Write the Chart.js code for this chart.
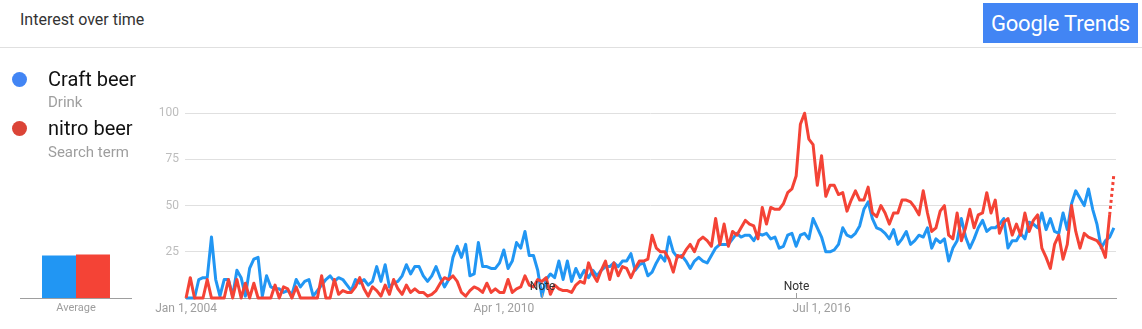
<!DOCTYPE html>
<html>
<head>
<meta charset="utf-8">
<script src="https://cdn.jsdelivr.net/npm/chart.js@4.4.1/dist/chart.umd.min.js"></script>
<style>
  html, body { margin:0; padding:0; background:#fff; }
  body { width:1142px; height:329px; position:relative; overflow:hidden; font-family: Roboto, "Noto Sans", Arial, sans-serif; }
  .title { position:absolute; left:20px; top:10px; font-size:16px; color:#333; line-height:20px; }
  .hr { position:absolute; left:0; top:47px; width:1142px; height:1px; background:#e0e0e0; }
  .logo { position:absolute; left:983px; top:3px; width:155px; height:40px; background:#4285f4; color:#fff;
          display:flex; align-items:center; justify-content:center; font-size:22px; letter-spacing:-0.2px; }
  .legend { position:absolute; left:0; top:0; z-index:5; }
  .dot { position:absolute; width:15px; height:15px; border-radius:50%; }
  .name { position:absolute; left:48px; font-size:20px; color:#111; line-height:24px; white-space:nowrap; }
  .sub { position:absolute; left:48px; font-size:15px; color:#9e9e9e; line-height:18px; white-space:nowrap; }
  canvas { position:absolute; }
</style>
</head>
<body>
<div class="title">Interest over time</div>
<div class="hr"></div>
<div class="logo">Google Trends</div>

<div class="legend">
  <div class="dot" style="left:12px; top:72px; background:#4285f4;"></div>
  <div class="name" style="top:67px;">Craft beer</div>
  <div class="sub" style="top:93px;">Drink</div>
  <div class="dot" style="left:12px; top:121px; background:#db4437;"></div>
  <div class="name" style="top:116px;">nitro beer</div>
  <div class="sub" style="top:143px;">Search term</div>
</div>

<canvas id="avg" width="112" height="229" style="left:20px; top:100px;"></canvas>
<canvas id="main" width="1002" height="229" style="left:140px; top:100px;"></canvas>

<script>
// Monthly interest, Jan 2004 .. Apr 2022 (index 0 = Jan 2004)
const craftBeer = [
  0,0,0,10,11,11,33,10,1,10,
  10,1,15,11,1,16,21,22,1,12,
  6,5,5,3,4,2,10,6,9,10,
  1,4,7,10,12,9,11,10,7,4,
  10,8,10,7,9,17,9,18,6,8,
  9,12,18,13,17,17,12,9,12,17,
  11,6,10,22,28,22,29,12,13,30,
  17,17,16,16,19,26,16,20,30,27,
  36,23,23,15,1,10,13,11,20,10,
  20,9,16,11,15,11,15,12,15,17,
  17,19,17,20,20,24,15,18,19,12,
  14,19,23,20,33,25,22,23,20,16,
  20,22,20,19,23,27,29,29,29,32,
  35,33,34,34,31,35,34,35,32,33,
  27,28,34,35,28,34,35,32,43,38,
  33,25,25,26,29,38,34,33,35,39,
  48,52,43,38,37,35,32,37,29,32,
  36,29,31,34,33,38,27,32,30,32,
  20,27,31,43,33,27,32,38,42,36,
  38,38,40,43,27,31,31,35,32,41,
  40,38,46,37,43,36,35,46,37,51,
  58,54,50,59,48,40,27,31,33,38
];
const nitroBeer = [
  0,11,0,0,0,10,0,0,0,0,
  10,0,10,0,8,0,8,0,0,0,
  0,7,0,6,5,0,6,0,0,0,
  0,0,12,0,0,10,2,4,3,3,
  6,11,5,1,6,4,1,7,2,10,
  5,2,7,3,5,3,3,1,2,4,
  8,11,10,12,9,3,1,4,6,5,
  3,8,3,5,3,3,10,3,5,6,
  12,7,6,10,9,11,2,7,5,4,
  4,3,7,9,8,19,13,9,15,20,
  10,19,12,17,16,11,16,20,20,21,
  34,27,25,25,21,14,23,22,26,29,
  25,31,33,31,28,43,29,40,28,36,
  34,38,42,40,39,32,49,40,49,48,
  48,51,57,59,66,94,100,86,83,61,
  77,55,61,61,56,57,47,53,58,53,
  53,60,46,44,50,46,40,46,46,53,
  53,52,49,45,58,46,36,38,47,50,
  34,32,46,31,38,48,38,45,46,57,
  46,53,35,41,43,34,40,34,46,36,
  42,45,27,22,16,29,34,21,29,50,
  36,27,35,33,32,31,28,22,45,67
];
const averages = [23, 23.5];
const averageLabel = ['Average'];
const tickIndices = [0, 75, 150];
const tickLabels = ['Jan 1, 2004', 'Apr 1, 2010', 'Jul 1, 2016'];
const yTicks = [0, 25, 50, 75, 100];
const noteIndices = [84, 144];
const noteText = 'Note';

const BLUE = '#2196f3', RED = '#f44336';
Chart.defaults.font.family = 'Roboto, "Noto Sans", Arial, sans-serif';
Chart.defaults.animation = false;

const toPts = arr => arr.map((v, i) => ({ x: i, y: v }));

const notesPlugin = {
  id: 'notes',
  afterDatasetsDraw(chart) {
    const { ctx, scales: { x, y } } = chart;
    const base = y.getPixelForValue(0);
    ctx.save();
    ctx.font = '12px Roboto, "Noto Sans", Arial, sans-serif';
    ctx.textAlign = 'center';
    ctx.textBaseline = 'middle';
    noteIndices.forEach(idx => {
      const px = Math.round(x.getPixelForValue(idx)) + 0.5;
      ctx.strokeStyle = '#9e9e9e';
      ctx.lineWidth = 1;
      ctx.beginPath();
      ctx.moveTo(px, base - 5);
      ctx.lineTo(px, base);
      ctx.stroke();
      ctx.fillStyle = '#333';
      ctx.fillText(noteText, px, base - 11);
    });
    ctx.restore();
  }
};

new Chart(document.getElementById('main'), {
  type: 'line',
  data: {
    datasets: [
      { label: 'Craft beer', data: toPts(craftBeer), borderColor: BLUE, borderWidth: 3,
        pointRadius: 0, tension: 0, order: 2, clip: 4, borderJoinStyle: 'round' },
      { label: 'nitro beer', data: toPts(nitroBeer), borderColor: RED, borderWidth: 3,
        pointRadius: 0, tension: 0, order: 1, clip: 4, borderJoinStyle: 'round',
        segment: { borderDash: c => c.p1DataIndex === nitroBeer.length - 1 ? [3, 3] : undefined } }
    ]
  },
  options: {
    responsive: false,
    devicePixelRatio: 1,
    layout: { padding: { top: 13, right: 26, left: 0, bottom: 0 } },
    plugins: { legend: { display: false }, tooltip: { enabled: false } },
    scales: {
      x: {
        type: 'linear', min: -0.25, max: craftBeer.length - 0.5,
        grid: { display: false, drawTicks: false },
        border: { display: true, color: '#9e9e9e', width: 1 },
        afterBuildTicks: s => { s.ticks = tickIndices.map(v => ({ value: v })); },
        afterFit: s => { s.height = 31; },
        ticks: {
          autoSkip: false, maxRotation: 0, padding: 4, color: '#9e9e9e',
          font: { size: 12 },
          callback: v => { const k = tickIndices.indexOf(v); return k >= 0 ? tickLabels[k] : ''; }
        }
      },
      y: {
        min: 0, max: 100,
        afterBuildTicks: s => { s.ticks = yTicks.map(v => ({ value: v })); },
        afterFit: s => { s.width = 45; },
        grid: { drawTicks: false, color: c => c.tick && c.tick.value === 0 ? '#9e9e9e' : '#e0e0e0' },
        border: { display: false },
        ticks: { padding: 6, color: '#bdbdbd', font: { size: 12 },
                 callback: v => v === 0 ? '' : String(v) }
      }
    }
  },
  plugins: [notesPlugin]
});

new Chart(document.getElementById('avg'), {
  type: 'bar',
  data: {
    labels: averageLabel,
    datasets: [
      { data: [averages[0]], backgroundColor: BLUE, barPercentage: 1, categoryPercentage: 0.607 },
      { data: [averages[1]], backgroundColor: RED, barPercentage: 1, categoryPercentage: 0.607 }
    ]
  },
  options: {
    responsive: false,
    devicePixelRatio: 1,
    layout: { padding: { top: 13, right: 0, left: 0, bottom: 0 } },
    plugins: { legend: { display: false }, tooltip: { enabled: false } },
    scales: {
      x: {
        grid: { display: false, drawTicks: false },
        border: { display: true, color: '#9e9e9e', width: 1 },
        afterFit: s => { s.height = 31; },
        ticks: { padding: 4, color: '#9e9e9e', font: { size: 11 } }
      },
      y: { display: false, min: 0, max: 100 }
    }
  }
});
</script>
</body>
</html>
